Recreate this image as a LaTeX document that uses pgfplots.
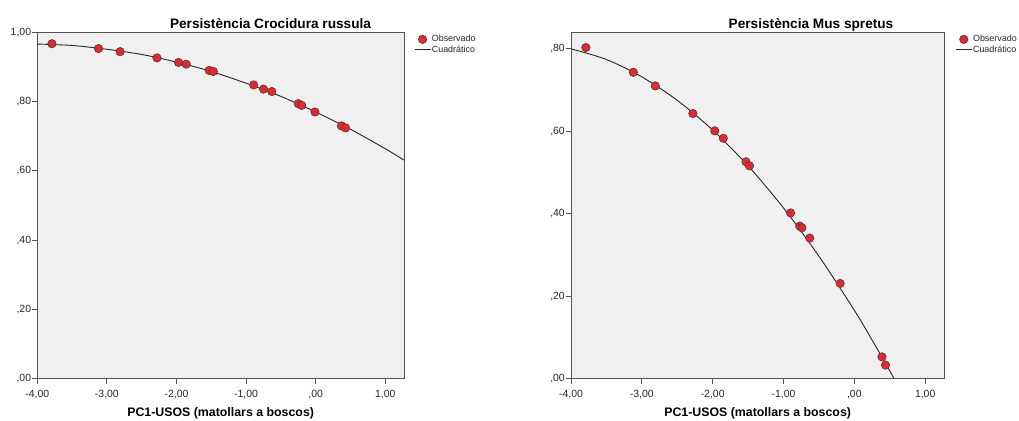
\documentclass[border=0pt]{standalone}
\usepackage{pgfplots}
\pgfplotsset{compat=1.18}
\usepackage{fontspec}
\setmainfont{Liberation Sans}

\definecolor{bgpanel}{HTML}{F0F0F0}
\definecolor{obsred}{HTML}{E8262C}
\definecolor{framegray}{HTML}{555555}

\pgfplotstableread{
x y
-3.79 0.967
-3.12 0.953
-2.81 0.944
-2.28 0.926
-1.97 0.913
-1.86 0.908
-1.53 0.890
-1.47 0.887
-0.89 0.848
-0.75 0.836
-0.63 0.829
-0.25 0.794
-0.20 0.789
-0.01 0.770
0.37 0.730
0.43 0.724
}\crocobs

\pgfplotstableread{
x y
-4.00 0.966
-3.50 0.962
-3.00 0.951
-2.50 0.936
-2.00 0.914
-1.50 0.887
-1.00 0.853
-0.50 0.815
0.00 0.770
0.50 0.720
1.00 0.664
1.27 0.631
}\crocfit

\pgfplotstableread{
x y
-3.79 0.803
-3.12 0.743
-2.81 0.710
-2.28 0.643
-1.97 0.601
-1.85 0.583
-1.53 0.526
-1.48 0.516
-0.90 0.402
-0.77 0.370
-0.74 0.366
-0.63 0.341
-0.20 0.231
0.39 0.053
0.44 0.033
}\musobs

\pgfplotstableread{
x y
-4.00 0.800
-3.50 0.774
-3.00 0.732
-2.50 0.675
-2.00 0.603
-1.50 0.516
-1.00 0.414
-0.50 0.297
0.00 0.166
0.25 0.094
0.50 0.019
0.56 0.000
}\musfit

\pgfplotsset{
  spss/.style={
    scale only axis,
    height=346.4bp,
    axis background/.style={fill=bgpanel},
    axis line style={framegray, line width=1bp},
    tick align=outside,
    xtick pos=bottom, ytick pos=left,
    major tick length=5bp,
    tick style={framegray, line width=1bp},
    xmin=-4, xmax=1.27, ymin=0,
    xtick={-4,-3,-2,-1,0,1},
    xticklabels={{-4,00},{-3,00},{-2,00},{-1,00},{,00},{1,00}},
    ticklabel style={font=\fontsize{10.5}{12}\selectfont, text=black!85},
    xticklabel style={inner sep=1bp, yshift=-5bp},
    yticklabel style={inner sep=1bp},
    xlabel={PC1-USOS (matollars a boscos)},
    xlabel style={at={(axis description cs:0.5,0)}, anchor=base, yshift=-38bp,
      font=\bfseries\fontsize{12.4}{14}\selectfont},
    title style={anchor=base, yshift=-2bp, font=\bfseries\fontsize{13.7}{15}\selectfont},
    legend style={draw=none, fill=none, anchor=north west,
      font=\fontsize{9}{10}\selectfont, inner sep=0pt, row sep=0.5bp,
      nodes={inner sep=0.8bp}, text=black!85,
      /tikz/every even column/.append style={column sep=1bp}},
    legend cell align=left,
  },
  obsmarks/.style={only marks, mark=*, mark size=4.2bp,
    mark options={fill=obsred, draw=black!75, line width=0.6bp},
    legend image code/.code={\draw[##1] plot coordinates {(8bp,0bp)};}},
  fitline/.style={no marks, smooth, color=black!85, line width=0.9bp,
    legend image code/.code={\draw[##1] plot coordinates {(0bp,0bp) (16bp,0bp)};}},
}

\begin{document}
\begin{tikzpicture}
\path[use as bounding box] (0,0) rectangle (1019bp,421bp);

\begin{axis}[spss,
  at={(37.3bp,42.3bp)}, anchor=south west,
  width=366.7bp,
  ymax=1.0,
  ytick={0,0.2,0.4,0.6,0.8,1.0},
  yticklabels={{,00},{,20},{,40},{,60},{,80},{1,00}},
  title={Persistència Crocidura russula},
  title style={at={(axis description cs:0.636,1)}},
  legend style={at={(axis description cs:1.027,0.994)}},
]
\addplot[obsmarks] table {\crocobs};
\addlegendentry{Observado}
\addplot[fitline] table {\crocfit};
\addlegendentry{Cuadrático}
\end{axis}

\begin{axis}[spss,
  at={(571bp,42.3bp)}, anchor=south west,
  width=373.3bp,
  ymax=0.84,
  ytick={0,0.2,0.4,0.6,0.8},
  yticklabels={{,00},{,20},{,40},{,60},{,80}},
  title={Persistència Mus spretus},
  title style={at={(axis description cs:0.643,1)}},
  legend style={at={(axis description cs:1.029,0.994)}},
]
\addplot[obsmarks] table {\musobs};
\addlegendentry{Observado}
\addplot[fitline] table {\musfit};
\addlegendentry{Cuadrático}
\end{axis}
\end{tikzpicture}
\end{document}
